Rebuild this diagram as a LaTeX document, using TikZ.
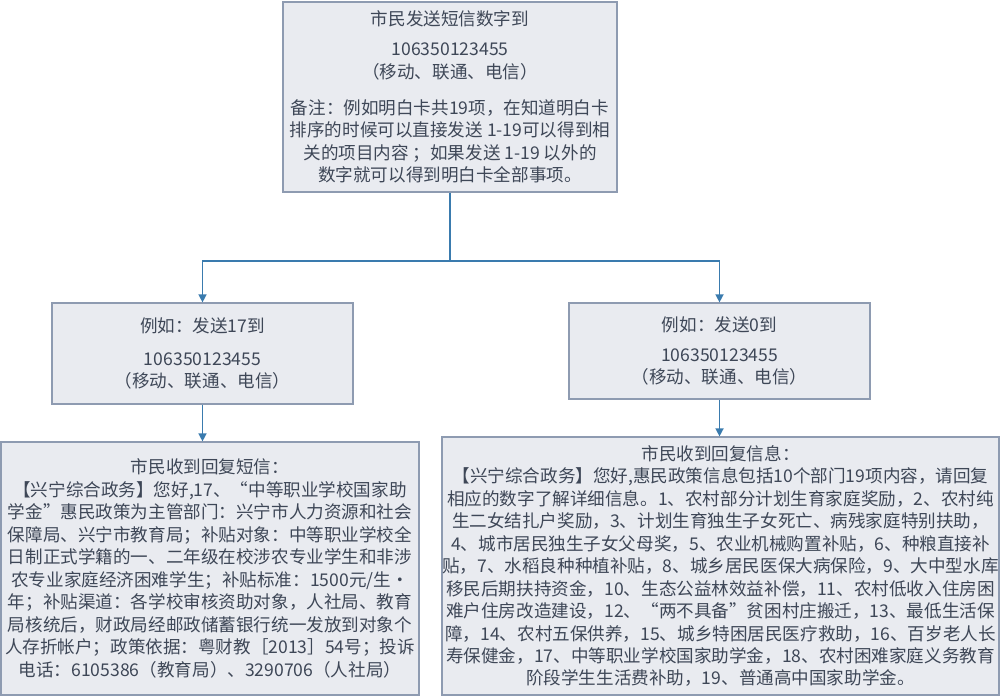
\documentclass[tikz,border=0pt]{standalone}
\usepackage{fontspec}
\newfontfamily\cjk{Noto Sans CJK SC}
\usepackage{tikz}
\usetikzlibrary{arrows.meta,positioning}
\definecolor{boxfill}{HTML}{E9EBF0}
\definecolor{boxline}{HTML}{8E9BB1}
\definecolor{ink}{HTML}{3E4757}
\definecolor{flow}{HTML}{3A7BAE}

\begin{document}
\begin{tikzpicture}[x=0.02cm,y=-0.02cm,line width=0.7pt,
  box/.style={draw=boxline,fill=boxfill,text=ink,align=center,inner sep=0pt,
    font=\cjk\fontsize{10pt}{12.8pt}\selectfont},
  arr/.style={flow,line width=0.8pt,-{Triangle[length=4.6pt,width=4.6pt]}}]
  \useasboundingbox (0,0) rectangle (1000,697);
  % sending box
  \node[box,minimum width=6.68cm,minimum height=3.8cm] (send) at (450,97)
    {市民发送短信数字到\\[4.2pt]
     106350123455\\
     （移动、联通、电信）\\[7.7pt]
     备注：例如明白卡共19项，在知道明白卡\\
     排序的时候可以直接发送 1-19可以得到相\\
     关的项目内容 ；如果发送 1-19 以外的\\
     数字就可以得到明白卡全部事项。};
  % two examples
  \node[box,minimum width=6.02cm,minimum height=2.02cm] (ex17) at (202.5,353.5)
    {例如：发送17到\\[6pt]
     106350123455\\
     （移动、联通、电信）};
  \node[box,minimum width=6.02cm,minimum height=1.92cm] (ex0) at (719.5,351)
    {例如：发送0到\\[4.3pt]
     106350123455\\
     （移动、联通、电信）};
  % replies
  \node[box,minimum width=8.36cm,minimum height=5.06cm] (reply17) at (210,568.5)
    {市民收到回复短信：\\
     【兴宁综合政务】您好,17、“中等职业学校国家助\\
     学金”惠民政策为主管部门：兴宁市人力资源和社会\\
     保障局、兴宁市教育局；补贴对象：中等职业学校全\\
     日制正式学籍的一、二年级在校涉农专业学生和非涉\\
     农专业家庭经济困难学生；补贴标准：1500元/生·\\
     年；补贴渠道：各学校审核资助对象，人社局、教育\\
     局核统后，财政局经邮政储蓄银行统一发放到对象个\\
     人存折帐户；政策依据：粤财教［2013］54号；投诉\\
     电话：6105386（教育局）、3290706（人社局）};
  \node[box,minimum width=11.14cm,minimum height=5.16cm] (reply0) at (720.5,566)
    {市民收到回复信息：\\
     【兴宁综合政务】您好,惠民政策信息包括10个部门19项内容，请回复\\
     相应的数字了解详细信息。1、农村部分计划生育家庭奖励，2、农村纯\\
     生二女结扎户奖励，3、计划生育独生子女死亡、病残家庭特别扶助，\\
     4、城市居民独生子女父母奖，5、农业机械购置补贴，6、种粮直接补\\
     贴，7、水稻良种种植补贴，8、城乡居民医保大病保险，9、大中型水库\\
     移民后期扶持资金，10、生态公益林效益补偿，11、农村低收入住房困\\
     难户住房改造建设，12、“两不具备”贫困村庄搬迁，13、最低生活保\\
     障，14、农村五保供养，15、城乡特困居民医疗救助，16、百岁老人长\\
     寿保健金，17、中等职业学校国家助学金，18、农村困难家庭义务教育\\
     阶段学生生活费补助，19、普通高中国家助学金。};
  % connectors
  \coordinate (split) at (450,261);
  \draw[flow,line width=0.8pt] (send.south) -- (split);
  \draw[arr] (split) -| (ex17.north);
  \draw[arr] (split) -| (ex0.north);
  \draw[arr] (ex17.south) -- (ex17.south |- reply17.north);
  \draw[arr] (ex0.south) -- (ex0.south |- reply0.north);
\end{tikzpicture}
\end{document}
